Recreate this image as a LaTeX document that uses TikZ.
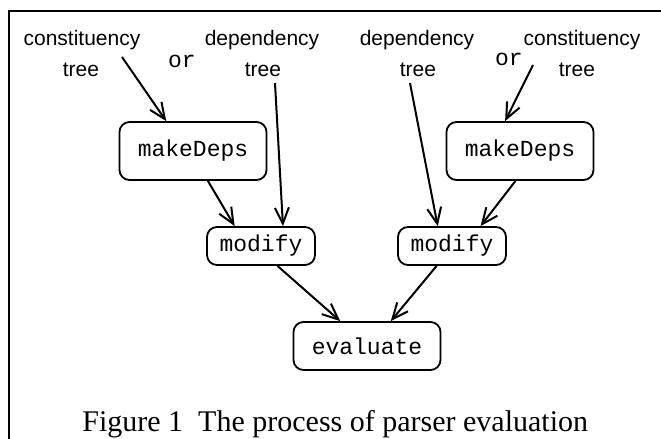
\documentclass[tikz,border=0pt]{standalone}
\usepackage{fontspec}
\setmainfont{Liberation Serif}
\setsansfont{Liberation Sans}
\setmonofont{Liberation Mono}
\usetikzlibrary{arrows.meta,calc}
\begin{document}
\begin{tikzpicture}[x=0.5pt,y=-0.5pt,
  proc/.style={draw,line width=0.9pt,rounded corners=5pt,minimum width=73.5pt,minimum height=29pt,inner sep=0pt,font=\fontsize{11.5}{13}\ttfamily},
  small/.style={proc,minimum width=54pt,minimum height=19pt},
  lbl/.style={font=\fontsize{10.5}{12}\sffamily,align=center,inner sep=0pt},
  ortext/.style={font=\fontsize{11.5}{13}\ttfamily,inner sep=0pt},
  arr/.style={line width=1pt,-{Straight Barb[length=8pt,width=7pt,line width=1pt]}}]
\useasboundingbox (0,0) rectangle (661,439);
% frame
\draw[line width=1pt] (9,440) -- (9,11) -- (661,11);
% labels
\node[lbl] (c1) at (82,40) {constituency};
\node[lbl] (t1) at (81,70) {tree};
\node[ortext] (or1) at (182,61) {or};
\node[lbl] (d1) at (262,40) {dependency};
\node[lbl] (t2) at (263,70) {tree};
\node[lbl] (d2) at (417,40) {dependency};
\node[lbl] (t3) at (418,70) {tree};
\node[ortext] (or2) at (509,59) {or};
\node[lbl] (c2) at (582,40) {constituency};
\node[lbl] (t4) at (577,70) {tree};
% boxes
\node[proc] (mdL) at (193,151) {makeDeps};
\node[proc] (mdR) at (520,151) {makeDeps};
\node[small] (modL) at (261,246) {modify};
\node[small] (modR) at (452,246) {modify};
\node[proc,minimum height=24pt] (ev) at (367,346) {evaluate};
% caption
\node[font=\fontsize{15}{17}\selectfont,inner sep=0pt,anchor=base west] (cap) at (82,432) {Figure 1\enspace The process of parser evaluation};
% arrow start points
\coordinate (s1) at (122,57);
\coordinate (s2) at (275,83);
\coordinate (s3) at (410,83);
\coordinate (s4) at (533,65);
% arrows
\draw[arr] (s1) -- ($(mdL.north west)!0.32!(mdL.north east)$);
\draw[arr] (s2) -- ($(modL.north west)!0.70!(modL.north east)$);
\draw[arr] ($(mdL.south west)!0.6!(mdL.south east)$) -- ($(modL.north west)!0.26!(modL.north east)$);
\draw[arr] (s3) -- ($(modR.north west)!0.37!(modR.north east)$);
\draw[arr] (s4) -- ($(mdR.north west)!0.40!(mdR.north east)$);
\draw[arr] ($(mdR.south west)!0.47!(mdR.south east)$) -- ($(modR.north west)!0.76!(modR.north east)$);
\draw[arr] ($(modL.south west)!0.65!(modL.south east)$) -- ($(ev.north west)!0.32!(ev.north east)$);
\draw[arr] ($(modR.south west)!0.36!(modR.south east)$) -- ($(ev.north west)!0.66!(ev.north east)$);
\end{tikzpicture}
\end{document}
